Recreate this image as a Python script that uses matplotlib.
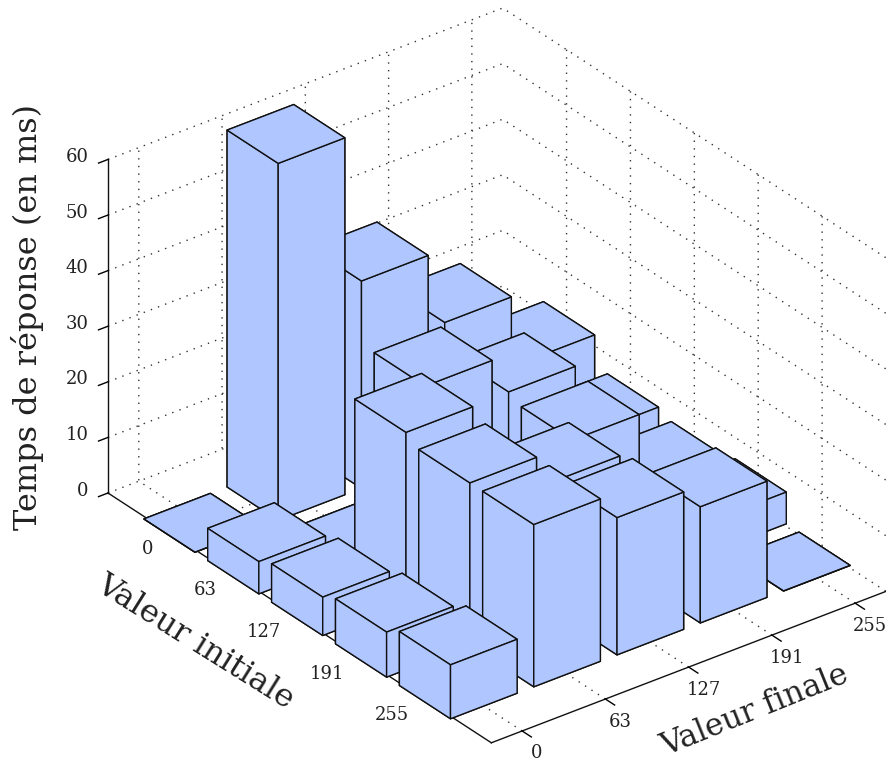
import numpy as np
import matplotlib
matplotlib.use('Agg')
import matplotlib.pyplot as plt
from mpl_toolkits.mplot3d import proj3d

W, H = 886, 762

#tick labels, same for both floor axes
levels = ['0', '63', '127', '191', '255']
ztick_vals = [0, 10, 20, 30, 40, 50, 60]

#response time in ms, one list per initial value, columns are final values
from_0 = [0.0, 64.2, 37.3, 24.1, 11.5]
from_63 = [5.8, 0.0, 25.9, 19.1, 6.0]
from_127 = [6.9, 30.8, 0.0, 17.9, 4.9]
from_191 = [8.1, 29.2, 23.7, 0.0, 5.7]
from_255 = [9.7, 29.2, 24.7, 20.9, 0.0]
times = [from_0, from_63, from_127, from_191, from_255]

bar_color = '#AFC6FF'
text_color = '#222222'

plt.rcParams['font.family'] = 'DejaVu Serif'
plt.rcParams['grid.color'] = '#333333'
plt.rcParams['grid.linestyle'] = (0, (1, 4.5))
plt.rcParams['grid.linewidth'] = 1.0

fig = plt.figure(figsize=(W/100, H/100), dpi=100)
ax = fig.add_axes([0.1, 0.1, 0.8, 0.8*W/H], projection='3d', proj_type='ortho')
ax.computed_zorder = False

#back to front so that the painter order is right
order = 1
for i in range(5):
    for f in range(4, -1, -1):
        ax.bar3d(f-0.4, i-0.4, 0, 0.8, 0.8, times[i][f], color=bar_color, shade=False,
                 edgecolor='#101010', linewidth=1.0, zorder=order)
        order += 1

ax.set_xlim(-0.37, 4.37, view_margin=0)
ax.set_ylim(5, -1, view_margin=0)
ax.set_zlim(0, 60, view_margin=0)
ax.set_box_aspect((4.74, 6, 3.67))
ax.view_init(elev=30, azim=-127.5)

ax.set_xticks(range(5), levels, fontsize=13, color=text_color, ha='center', va='center')
ax.set_yticks(range(5), levels, fontsize=13, color=text_color, ha='right', va='bottom')
ax.set_zticks(ztick_vals)
ax.set_zticklabels([str(v) for v in ztick_vals], fontsize=13, color=text_color, ha='right', va='center')
ax.tick_params(axis='x', pad=4.5)
ax.tick_params(axis='y', pad=7.5)
ax.tick_params(axis='z', pad=0)

for axis in (ax.xaxis, ax.yaxis, ax.zaxis):
    axis.set_pane_color((1, 1, 1, 0))
    axis.pane.set_edgecolor((1, 1, 1, 0))
    axis.line.set_color('#111111')
    axis.line.set_linewidth(1.0)
    axis._axinfo['tick']['linewidth'] = {True: 1.0, False: 0.5}

#y axis is inverted, so the x and z ticks need the inward side to point out
ax.xaxis._axinfo['tick'].update(inward_factor=0.3, outward_factor=0.0)
ax.zaxis._axinfo['tick'].update(inward_factor=0.3, outward_factor=0.0)
ax.yaxis._axinfo['tick'].update(inward_factor=0.0, outward_factor=0.3)

#fit the box on the pixel positions of the reference corners
def to_px(x, y, z):
    px, py, _ = proj3d.proj_transform(x, y, z, ax.get_proj())
    return ax.transData.transform((px, py))

ax.apply_aspect()
pos = ax.get_position()
span = to_px(4.37, 5, 0)[0] - to_px(-0.37, -1, 0)[0]
new_size = pos.width*W*(886-108)/span
ax.set_position([pos.x0, pos.y0, new_size/W, new_size/H])
ax.apply_aspect()
a = to_px(-0.37, -1, 0)
pos = ax.get_position()
ax.set_position([pos.x0+(108-a[0])/W, pos.y0+((H-493)-a[1])/H, pos.width, pos.height])
ax.apply_aspect()

fig.text(28/W, 1-317/H, 'Temps de réponse (en ms)', rotation=90, ha='center', va='center',
         fontsize=23, color=text_color)
fig.text(195/W, 1-642/H, 'Valeur initiale', rotation=-32, rotation_mode='anchor', ha='center',
         va='center', fontsize=23, color=text_color)
fig.text(755/W, 1-711/H, 'Valeur finale', rotation=22, rotation_mode='anchor', ha='center',
         va='center', fontsize=22.5, color=text_color)

fig.savefig('out.png', dpi=100)
